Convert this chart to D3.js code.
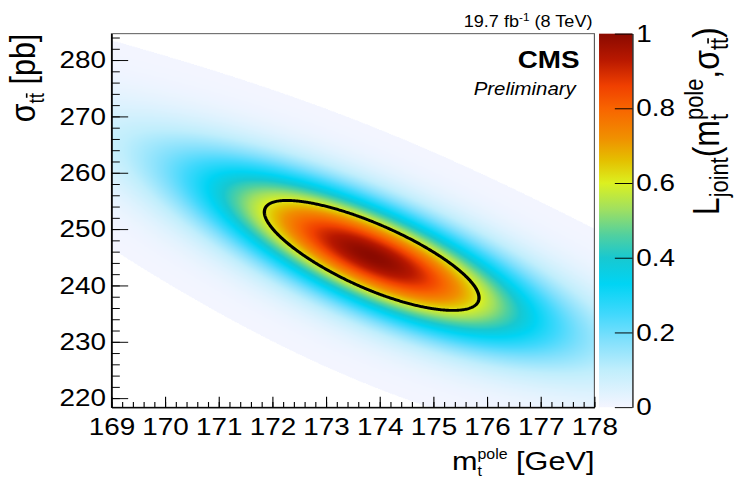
<!DOCTYPE html>
<html>
<head>
<meta charset="utf-8">
<script src="https://cdn.jsdelivr.net/npm/d3@7"></script>
<style>
body { margin: 0; background: #fff; }
svg { display: block; }
text { font-family: "Liberation Sans", Arial, sans-serif; white-space: pre; }
</style>
</head>
<body>
<svg id="chart"></svg>
<script>
// Axis ranges and ticks
const xRange = [169, 178];
const yRange = [218.4, 284.7];
const xTicks = [169, 170, 171, 172, 173, 174, 175, 176, 177, 178];
const yTicks = [220, 230, 240, 250, 260, 270, 280];
const zTicks = [0, 0.2, 0.4, 0.6, 0.8, 1];

// Likelihood: peak, widths, ridge slope and bend, tail
const peakPos = [173.85, 245.2];
const peakWidth = [1.96, 6.2];
const ridgeSlope = -3.8;
const ridgeBend = 0.06;
const tailPower = 12;
const cutLevel = 0.001;
const contourLevels = [0.607];

// Palette (value -> colour)
const paletteStops = [0, 0.10, 0.18, 0.25, 0.33, 0.40, 0.46, 0.53, 0.60, 0.66, 0.72, 0.80, 0.86, 0.93, 1];
const paletteColours = ["#f4f5ff", "#c0eefc", "#80e0fc", "#40d8fc", "#00d4f4", "#18c8d0", "#50d0a0",
  "#a0e060", "#dcf020", "#e4c000", "#f09000", "#f86400", "#f04000", "#b81800", "#8a0a00"];

// drawn on a 800x600 canvas, squeezed to the window like the original
const W = 800, H = 600;
const pLeft = 120, pRight = 640, pTop = 42, pBottom = 508;

const svg = d3.select("#chart")
  .attr("width", 743)
  .attr("height", 481)
  .attr("viewBox", `0 0 ${W} ${H}`)
  .attr("preserveAspectRatio", "none");

const x = d3.scaleLinear().domain(xRange).range([pLeft, pRight]);
const y = d3.scaleLinear().domain(yRange).range([pBottom, pTop]);
const z = d3.scaleLinear().domain([0, 1]).range([pBottom, pTop]);
const colour = d3.scaleLinear().domain(paletteStops).range(paletteColours)
  .interpolate(d3.interpolateRgb).clamp(true);

function likelihood(m, s) {
  const dm = m - peakPos[0];
  const u = dm / peakWidth[0];
  const v = (s - peakPos[1] - ridgeSlope * dm - ridgeBend * dm * dm) / peakWidth[1];
  return Math.pow(1 + u * u / tailPower, -tailPower / 2) * Math.exp(-v * v / 2);
}

// grid at pixel centres of the frame
const nx = pRight - pLeft, ny = pBottom - pTop;
const grid = new Float64Array(nx * ny);
for (let j = 0; j < ny; j++) {
  const s = y.invert(pTop + j + 0.5);
  for (let i = 0; i < nx; i++) {
    grid[j * nx + i] = likelihood(x.invert(pLeft + i + 0.5), s);
  }
}

// heat map into a canvas, then into the svg
const canvas = document.createElement("canvas");
canvas.width = nx; canvas.height = ny;
const ctx = canvas.getContext("2d");
const img = ctx.createImageData(nx, ny);
for (let k = 0; k < grid.length; k++) {
  const val = grid[k];
  if (val < cutLevel) continue;
  const c = d3.rgb(colour(val));
  img.data[4 * k] = c.r;
  img.data[4 * k + 1] = c.g;
  img.data[4 * k + 2] = c.b;
  img.data[4 * k + 3] = 255;
}
ctx.putImageData(img, 0, 0);

svg.append("image")
  .attr("x", pLeft).attr("y", pTop)
  .attr("width", nx).attr("height", ny)
  .attr("preserveAspectRatio", "none")
  .attr("href", canvas.toDataURL());

// 1 sigma contour
const contours = d3.contours().size([nx, ny]).thresholds(contourLevels)(grid);
svg.append("g")
  .attr("transform", `translate(${pLeft},${pTop})`)
  .selectAll("path")
  .data(contours)
  .join("path")
  .attr("d", d3.geoPath())
  .attr("fill", "none")
  .attr("stroke", "#000")
  .attr("stroke-width", 3.6);

// frame
svg.append("rect")
  .attr("x", pLeft).attr("y", pTop)
  .attr("width", nx).attr("height", ny)
  .attr("fill", "none")
  .attr("stroke", "#555")
  .attr("stroke-width", 1.2);

// axes, ticks pointing inwards like ROOT
function styleAxis(g) {
  g.selectAll(".domain").attr("stroke", "#000").attr("stroke-width", 1.3);
  g.selectAll(".tick line").attr("stroke", "#000").attr("stroke-width", 1.2);
  g.selectAll("text").attr("font-size", 30).attr("fill", "#000")
    .attr("font-family", "'Liberation Sans', Arial, sans-serif");
}

svg.append("g")
  .attr("transform", `translate(0,${pBottom})`)
  .call(d3.axisBottom(x).tickValues(d3.range(169, 178.001, 0.2)).tickSizeInner(-6.5).tickSizeOuter(0).tickFormat(""))
  .call(styleAxis);
svg.append("g")
  .attr("transform", `translate(0,${pBottom})`)
  .call(d3.axisBottom(x).tickValues(xTicks).tickSizeInner(-13).tickSizeOuter(0).tickPadding(13).tickFormat(d3.format("d")))
  .call(styleAxis);

svg.append("g")
  .attr("transform", `translate(${pLeft},0)`)
  .call(d3.axisLeft(y).tickValues(d3.range(220, 285, 2)).tickSizeInner(-9).tickSizeOuter(0).tickFormat(""))
  .call(styleAxis);
svg.append("g")
  .attr("transform", `translate(${pLeft},0)`)
  .call(d3.axisLeft(y).tickValues(yTicks).tickSizeInner(-18).tickSizeOuter(0).tickPadding(6).tickFormat(d3.format("d")))
  .call(styleAxis);

// colour bar
const barLeft = 645, barRight = 681;
const grad = svg.append("defs").append("linearGradient")
  .attr("id", "pal").attr("x1", 0).attr("y1", 1).attr("x2", 0).attr("y2", 0);
grad.selectAll("stop")
  .data(paletteStops)
  .join("stop")
  .attr("offset", d => d)
  .attr("stop-color", d => colour(d));
svg.append("rect")
  .attr("x", barLeft).attr("y", pTop)
  .attr("width", barRight - barLeft).attr("height", pBottom - pTop)
  .attr("fill", "url(#pal)");
svg.append("g")
  .attr("transform", `translate(${barRight},0)`)
  .call(d3.axisRight(z).tickValues(zTicks).tickSizeInner(-19).tickSizeOuter(0).tickPadding(4).tickFormat(d => d3.format("")(d)))
  .call(styleAxis);

// text with sub/superscripts; pieces laid out left to right
function richText(parent, pieces, size) {
  const g = parent.append("g");
  let cx = 0;
  pieces.forEach(p => {
    const list = Array.isArray(p) ? p : [p];
    let adv = 0;
    list.forEach(q => {
      const fs = size * (q.scale || 1);
      const t = g.append("text")
        .attr("x", cx).attr("y", q.dy ? q.dy * size : 0)
        .attr("font-size", fs)
        .text(q.t);
      const w = t.node().getComputedTextLength();
      if (q.bar) {
        const lw = t.node().getSubStringLength(q.t.length - 1, 1);
        const yb = (q.dy || 0) * size - fs * 0.78;
        g.append("line")
          .attr("x1", cx + w - lw + 0.5).attr("x2", cx + w - 0.5)
          .attr("y1", yb).attr("y2", yb)
          .attr("stroke", "#000").attr("stroke-width", size * 0.045);
      }
      adv = Math.max(adv, w);
    });
    cx += adv;
  });
  return { g, width: cx };
}

const sup = (t, k) => ({ t, scale: k, dy: -0.42 });
const sub = (t, k) => ({ t, scale: k, dy: 0.24 });
const subBar = (t, k) => ({ t, scale: k, dy: 0.24, bar: true });

// x title
const xt = richText(svg, [{ t: "m" }, [sup("pole", 0.52), sub("t", 0.52)], { t: " [GeV]" }], 33);
xt.g.attr("transform", `translate(${pRight - xt.width},586)`);

// y title
const yt = richText(svg, [{ t: "σ" }, subBar("tt", 0.62), { t: " [pb]" }], 38);
yt.g.attr("transform", `translate(38,${pTop}) rotate(-90) translate(${-yt.width},0)`);

// z title
const zt = richText(svg, [{ t: "L" }, sub("joint", 0.68), { t: "(m" }, [sup("pole", 0.68), sub("t", 0.68)],
  { t: ",σ" }, subBar("tt", 0.68), { t: ")" }], 40);
zt.g.attr("transform", `translate(774,34) rotate(-90) translate(${-zt.width},0)`);

// lumi and CMS labels
const lumi = richText(svg, [{ t: "19.7 fb" }, { t: "-1", scale: 0.65, dy: -0.38 }, { t: " (8 TeV)" }], 19.5);
lumi.g.attr("transform", `translate(${638 - lumi.width},34)`);

svg.append("text")
  .attr("x", 624).attr("y", 85)
  .attr("text-anchor", "end")
  .attr("font-size", 30)
  .attr("font-weight", "bold")
  .text("CMS");
svg.append("text")
  .attr("x", 620).attr("y", 118)
  .attr("text-anchor", "end")
  .attr("font-size", 22)
  .attr("font-style", "italic")
  .text("Preliminary");
</script>
</body>
</html>
